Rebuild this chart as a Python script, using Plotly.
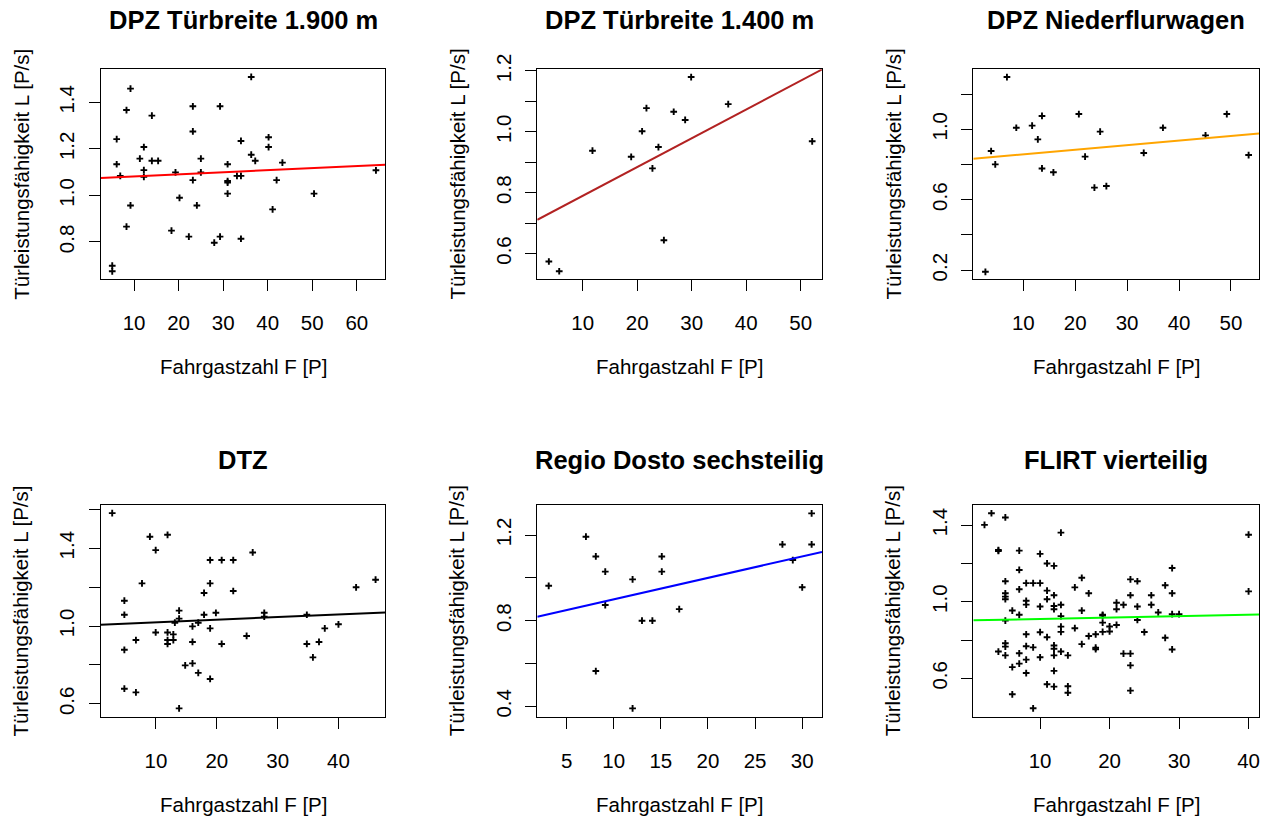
import plotly.graph_objects as go

# ---------------- data ----------------
titles = ["DPZ Türbreite 1.900 m", "DPZ Türbreite 1.400 m", "DPZ Niederflurwagen",
          "DTZ", "Regio Dosto sechsteilig", "FLIRT vierteilig"]
x_label = "Fahrgastzahl F [P]"
y_label = "Türleistungsfähigkeit L [P/s]"

x1 = [5.1, 5.1, 6.1, 6.1, 6.9, 8.3, 8.3, 9.2, 9.2, 11.3, 12.2, 12.2, 12.2, 14.0, 14.0, 15.4,
      18.4, 19.3, 20.2, 22.3, 23.2, 23.2, 23.2, 24.1, 25.0, 25.0, 28.0, 29.3, 29.3, 31.0, 31.0,
      31.0, 31.0, 33.1, 34.0, 34.0, 34.0, 36.3, 36.3, 37.2, 40.2, 40.2, 41.1, 42.0, 43.3, 50.4, 64.3]
y1 = [0.698, 0.674, 1.242, 1.134, 1.084, 1.367, 0.866, 1.459, 0.957, 1.158, 1.208, 1.109, 1.080,
      1.343, 1.149, 1.149, 0.849, 1.099, 0.990, 0.823, 1.383, 1.275, 1.066, 0.957, 1.158, 1.099,
      0.797, 1.383, 0.823, 1.134, 1.062, 1.055, 1.008, 1.084, 1.084, 1.234, 0.814, 1.509, 1.175,
      1.149, 1.250, 1.208, 0.940, 1.066, 1.141, 1.008, 1.108]

x2 = [3.8, 5.7, 11.8, 18.9, 20.9, 21.7, 22.8, 23.9, 24.9, 26.7, 28.8, 29.9, 36.7, 52.1]
y2 = [0.574, 0.542, 0.938, 0.918, 1.002, 1.078, 0.880, 0.950, 0.644, 1.066, 1.039, 1.180, 1.091, 0.969]

x3 = [2.7, 3.8, 4.6, 6.85, 8.65, 11.7, 12.8, 13.6, 13.6, 15.8, 20.7, 21.9, 23.7, 24.8, 26.0,
      33.2, 36.9, 45.1, 49.2, 53.4]
y3 = [0.191, 0.877, 0.801, 1.297, 1.009, 1.021, 0.943, 1.076, 0.778, 0.756, 1.087, 0.845, 0.669,
      0.987, 0.678, 0.866, 1.009, 0.966, 1.087, 0.854]

x4 = [2.8, 4.8, 4.8, 4.8, 4.8, 6.7, 6.7, 7.7, 9.0, 9.95, 9.95, 11.9, 11.9, 11.9, 11.9, 12.85,
      12.85, 13.1, 13.8, 13.8, 13.8, 14.8, 16.0, 16.0, 16.0, 16.95, 16.95, 17.9, 17.9, 18.9, 18.9,
      18.9, 18.9, 19.85, 20.8, 20.8, 22.7, 22.7, 24.9, 25.9, 27.8, 27.8, 34.8, 34.8, 35.8, 36.8,
      37.75, 40.0, 42.9, 46.1]
y4 = [1.580, 1.130, 1.058, 0.878, 0.678, 0.928, 0.659, 1.219, 1.459, 1.390, 0.967, 1.469, 0.967,
      0.928, 0.908, 0.957, 0.928, 1.017, 1.079, 1.038, 0.577, 0.798, 0.998, 0.918, 0.808, 1.017,
      0.759, 1.170, 1.058, 1.339, 1.219, 0.988, 0.728, 1.068, 1.339, 0.908, 1.339, 1.180, 0.949,
      1.378, 1.068, 1.048, 1.058, 0.908, 0.839, 0.918, 0.988, 1.009, 1.199, 1.238]

x5 = [3.1, 7.05, 8.1, 8.1, 9.1, 9.1, 12.0, 12.0, 13.0, 14.1, 15.1, 15.1, 16.95, 27.9, 29.0,
      30.0, 31.0, 31.0]
y5 = [0.963, 1.192, 1.100, 0.565, 1.029, 0.873, 0.993, 0.391, 0.800, 0.800, 1.100, 1.029, 0.854,
      1.156, 1.083, 0.956, 1.301, 1.156]

x6 = [3, 2, 5, 4, 4, 13, 7, 10, 11, 12, 7, 5, 7, 8, 9, 10, 11, 12, 11, 5, 5, 5, 8, 8, 6, 7, 10,
      12, 12, 13, 13, 5, 15, 16, 17, 16, 15, 13, 13, 19, 19, 19, 21, 21, 20, 20, 21, 19, 18, 17,
      16, 8, 10, 11, 12, 12, 12, 13, 14, 5, 5, 4, 5, 7, 8, 9, 10, 6, 7, 8, 8, 12, 11, 12, 14, 14,
      6, 9, 18, 18, 22, 23, 23, 24, 24, 24, 25, 26, 26, 27, 28, 29, 29, 29, 30, 28, 29, 22, 23,
      23, 23, 40, 40]
y6 = [1.462, 1.401, 1.440, 1.270, 1.265, 1.361, 1.267, 1.250, 1.200, 1.187, 1.166, 1.107, 1.065,
      1.097, 1.097, 1.097, 1.058, 1.034, 1.013, 1.044, 1.027, 1.013, 1.005, 0.985, 0.954, 0.932,
      0.975, 0.978, 0.961, 0.984, 0.925, 0.902, 1.075, 1.125, 1.044, 0.954, 0.862, 0.870, 0.843,
      0.932, 0.928, 0.891, 0.995, 0.961, 0.871, 0.845, 0.879, 0.843, 0.830, 0.821, 0.779, 0.830,
      0.841, 0.815, 0.772, 0.755, 0.720, 0.740, 0.720, 0.783, 0.766, 0.740, 0.720, 0.731, 0.768,
      0.762, 0.710, 0.659, 0.677, 0.698, 0.628, 0.639, 0.569, 0.557, 0.559, 0.525, 0.517, 0.444,
      0.760, 0.752, 0.984, 1.117, 1.034, 1.107, 0.975, 0.905, 0.842, 1.034, 0.984, 0.944, 1.086,
      1.176, 1.044, 0.935, 0.935, 0.812, 0.751, 0.729, 0.729, 0.668, 0.536, 1.350, 1.054]

xs = [x1, x2, x3, x4, x5, x6]
ys = [y1, y2, y3, y4, y5, y6]

# regression lines (intercept, slope)
fit_intercept = [1.0728, 0.695, 0.832, 1.0058, 0.800, 0.9027]
fit_slope = [0.000892, 0.00946, 0.002617, 0.001346, 0.0100, 0.00073]
fit_colors = ["#FF0000", "#B22222", "#FFA500", "#000000", "#0000FF", "#00FF00"]

# axis ranges
x_ranges = [[2.51, 66.4], [1.68, 53.9], [0.37, 55.4], [0.91, 47.7], [1.89, 32.1], [0.39, 41.5]]
y_ranges = [[0.641, 1.542], [0.5165, 1.2055], [0.150, 1.341], [0.534, 1.622], [0.352, 1.340], [0.400, 1.505]]

# ticks
x_ticks = [[10, 20, 30, 40, 50, 60], [10, 20, 30, 40, 50], [10, 20, 30, 40, 50],
           [10, 20, 30, 40], [5, 10, 15, 20, 25, 30], [10, 20, 30, 40]]
y_ticks = [[0.8, 1.0, 1.2, 1.4],
           [0.6, 0.7, 0.8, 0.9, 1.0, 1.1, 1.2],
           [0.2, 0.4, 0.6, 0.8, 1.0, 1.2],
           [0.6, 0.8, 1.0, 1.2, 1.4, 1.6],
           [0.4, 0.6, 0.8, 1.0, 1.2],
           [0.6, 0.8, 1.0, 1.2, 1.4]]
y_tick_text = [["0.8", "1.0", "1.2", "1.4"],
               ["0.6", "", "0.8", "", "1.0", "", "1.2"],
               ["0.2", "", "0.6", "", "1.0", ""],
               ["0.6", "", "1.0", "", "1.4", ""],
               ["0.4", "", "0.8", "", "1.2"],
               ["0.6", "", "1.0", "", "1.4"]]

# ---------------- layout geometry (pixels) ----------------
W, H = 1268, 818
cols = [(100.7, 385.3), (537.3, 822.0), (973.3, 1259.0)]
rows = [(69.3, 279.0), (505.0, 716.7)]

FONT = "Arial, Liberation Sans, sans-serif"
fig = go.Figure()
annotations = []
layout = dict(
    width=W, height=H, margin=dict(l=0, r=0, t=0, b=0, autoexpand=False),
    paper_bgcolor="white", plot_bgcolor="white", showlegend=False,
    font=dict(family=FONT, size=20.5, color="black"),
)

for i in range(6):
    r, c = divmod(i, 3)
    x0p, x1p = cols[c]
    y0p, y1p = rows[r]
    sfx = "" if i == 0 else str(i + 1)
    xa, ya = "x" + sfx, "y" + sfx
    fig.add_trace(go.Scatter(
        x=xs[i], y=ys[i], mode="markers", xaxis=xa, yaxis=ya,
        marker=dict(symbol="cross-thin", size=4.8, color="black",
                    line=dict(color="black", width=1.9)),
        hoverinfo="x+y"))
    lx = x_ranges[i]
    fig.add_trace(go.Scatter(
        x=lx, y=[fit_intercept[i] + fit_slope[i] * v for v in lx], mode="lines",
        xaxis=xa, yaxis=ya, line=dict(color=fit_colors[i], width=2), hoverinfo="skip"))
    common = dict(showline=True, linecolor="black", linewidth=1.4, mirror=True,
                  ticks="outside", ticklen=11, tickwidth=1.4, tickcolor="black",
                  showgrid=False, zeroline=False, automargin=False,
                  tickfont=dict(family=FONT, size=20.5, color="black"))
    layout["xaxis" + sfx] = dict(
        common, domain=[x0p / W, x1p / W], range=x_ranges[i], anchor=ya,
        tickmode="array", tickvals=x_ticks[i], ticktext=[str(t) for t in x_ticks[i]],
        ticklabelstandoff=14)
    layout["yaxis" + sfx] = dict(
        common, domain=[1 - y1p / H, 1 - y0p / H], range=y_ranges[i], anchor=xa,
        tickmode="array", tickvals=y_ticks[i], ticktext=y_tick_text[i],
        tickangle=-90, ticklabelstandoff=6)
    cx = (x0p + x1p) / 2
    cy = (y0p + y1p) / 2
    annotations.append(dict(text="<b>" + titles[i] + "</b>", x=cx / W, y=1 - (20 + 440 * r) / H,
                            xref="paper", yref="paper", showarrow=False, xanchor="center",
                            yanchor="middle", font=dict(family=FONT, size=25.5, color="black")))
    annotations.append(dict(text=x_label, x=cx / W, y=1 - (y1p + 88) / H,
                            xref="paper", yref="paper", showarrow=False, xanchor="center",
                            yanchor="middle", font=dict(family=FONT, size=20.5, color="black")))
    annotations.append(dict(text=y_label, x=(x0p - 80) / W, y=1 - cy / H, textangle=-90,
                            xref="paper", yref="paper", showarrow=False, xanchor="center",
                            yanchor="middle", font=dict(family=FONT, size=20.5, color="black")))

layout["annotations"] = annotations
fig.update_layout(**layout)
fig.write_html("out.html", config={"displayModeBar": False},
               post_script="document.body.style.margin='0px';document.body.style.overflow='hidden';")
